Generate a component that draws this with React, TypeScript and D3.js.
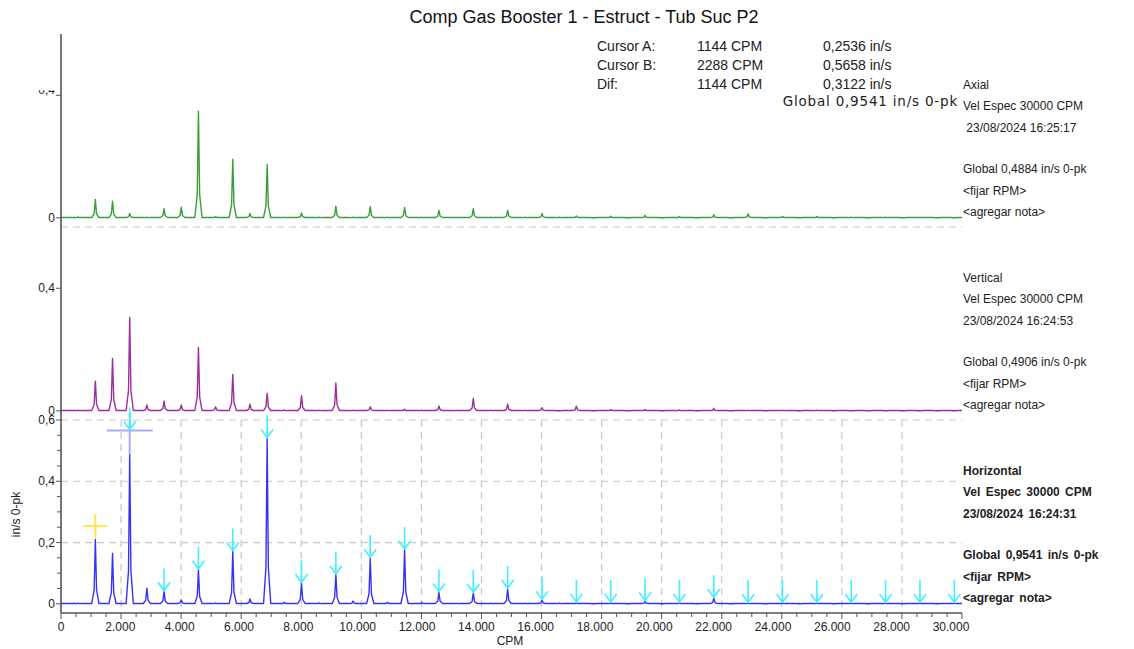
import React, { useEffect, useRef } from "react";
import * as d3 from "d3";

const W = 1134;
const H = 649;

const chartTitle = "Comp Gas Booster 1 - Estruct - Tub Suc P2";

// spectral lines every 572 CPM (0.5x of 1144 CPM running speed)
const peakCPM = [
	572, 1144, 1716, 2288, 2860, 3432, 4004, 4576, 5148, 5720, 6292, 6864, 7436,
	8008, 8580, 9152, 9724, 10296, 10868, 11440, 12012, 12584, 13156, 13728,
	14300, 14872, 15444, 16016, 16588, 17160, 17732, 18304, 18876, 19448, 20020,
	20592, 21164, 21736, 22308, 22880, 23452, 24024, 24596, 25168, 25740, 26312,
	26884, 27456, 28028, 28600, 29172, 29744,
];

const axialAmp = [
	0.003, 0.06, 0.054, 0.014, 0.002, 0.03, 0.035, 0.348, 0.004, 0.191, 0.014,
	0.174, 0.002, 0.016, 0.002, 0.038, 0.002, 0.037, 0.002, 0.034, 0.002, 0.024,
	0.002, 0.03, 0.002, 0.024, 0.002, 0.014, 0.002, 0.006, 0.001, 0.005, 0.001,
	0.008, 0.001, 0.004, 0.001, 0.01, 0.001, 0.013, 0.001, 0.004, 0.001, 0.004,
	0.001, 0.002, 0.001, 0.002, 0.001, 0.002, 0.001, 0.001,
];

const verticalAmp = [
	0.002, 0.097, 0.171, 0.305, 0.019, 0.032, 0.019, 0.207, 0.013, 0.119, 0.022,
	0.057, 0.003, 0.049, 0.002, 0.091, 0.002, 0.013, 0.002, 0.005, 0.002, 0.016,
	0.002, 0.041, 0.002, 0.022, 0.002, 0.01, 0.001, 0.015, 0.001, 0.004, 0.001,
	0.004, 0.001, 0.003, 0.001, 0.008, 0.001, 0.002, 0.001, 0.002, 0.001, 0.002,
	0.001, 0.001, 0.001, 0.001, 0.001, 0.001, 0.001, 0.001,
];

const horizontalAmp = [
	0.002, 0.21, 0.165, 0.49, 0.051, 0.04, 0.013, 0.111, 0.003, 0.171, 0.016,
	0.54, 0.005, 0.067, 0.003, 0.095, 0.009, 0.149, 0.005, 0.176, 0.004, 0.037,
	0.002, 0.035, 0.002, 0.048, 0.002, 0.012, 0.002, 0.003, 0.001, 0.003, 0.001,
	0.008, 0.001, 0.003, 0.001, 0.018, 0.001, 0.002, 0.001, 0.002, 0.001, 0.002,
	0.001, 0.002, 0.001, 0.002, 0.001, 0.002, 0.001, 0.002,
];

// harmonic markers (arrows) on the horizontal spectrum
const markerCPM = [
	2288, 3432, 4576, 5720, 6864, 8008, 9152, 10296, 11440, 12584, 13728, 14872,
	16016, 17160, 18304, 19448, 20592, 21736, 22880, 24024, 25168, 26312, 27456,
	28600, 29744,
];

const cursorA = { cpm: 1144, value: 0.2536 };
const cursorB = { cpm: 2288, value: 0.5658 };

const cursorRows = [
	["Cursor A:", "1144 CPM", "0,2536 in/s"],
	["Cursor B:", "2288 CPM", "0,5658 in/s"],
	["Dif:", "1144 CPM", "0,3122 in/s"],
];
const overallGlobal = "Global 0,9541 in/s 0-pk";

const panelNames = ["Axial", "Vertical", "Horizontal"];
const panelColors = ["#3a9e3a", "#9c2f9c", "#3434f4"];
const panelDates = [" 23/08/2024 16:25:17", "23/08/2024 16:24:53", "23/08/2024 16:24:31"];
const panelGlobals = ["Global 0,4884 in/s 0-pk", "Global 0,4906 in/s 0-pk", "Global 0,9541 in/s 0-pk"];
const panelData = [axialAmp, verticalAmp, horizontalAmp];

const xMajor = [0, 2000, 4000, 6000, 8000, 10000, 12000, 14000, 16000, 18000, 20000, 22000, 24000, 26000, 28000, 30000];
const xGrid = [2000, 4000, 6000, 8000, 10000, 12000, 14000, 16000, 18000, 20000, 22000, 24000, 26000, 28000];
const yTicksBottom = [0, 0.2, 0.4, 0.6];
const yTicksUpper = [0, 0.4];

const FONT = "'Liberation Sans', Arial, sans-serif";

const App = () => {
	const svgRef = useRef(null);

	useEffect(() => {
		const svg = d3.select(svgRef.current);
		svg.selectAll("*").remove();

		const left = 61;
		const right = 962;
		const panelH = 193;
		const tops = [34, 227, 420];
		const axisY = tops[2] + panelH;

		const x = d3.scaleLinear().domain([0, 30000]).range([left, right]);
		// tick labels drift slightly left of their ticks in the original
		const xLab = d3.scaleLinear().domain([0, 30000]).range([left, 951]);
		const yOf = (top) => d3.scaleLinear().domain([-0.03, 0.6]).range([top + panelH, top]);
		const fmtX = (v) => d3.format(",")(v).replace(/,/g, ".");
		const fmtY = (v) => (v === 0 ? "0" : d3.format(".1f")(v).replace(".", ","));

		svg.append("rect").attr("width", W).attr("height", H).attr("fill", "#fff");

		// title
		svg
			.append("text")
			.attr("x", 584)
			.attr("y", 23)
			.attr("text-anchor", "middle")
			.attr("font-size", 18)
			.attr("fill", "#111")
			.text(chartTitle);

		// grid in bottom panel
		const yB = yOf(tops[2]);
		const grid = svg.append("g").attr("stroke", "#c8c8c8").attr("stroke-width", 1.2).attr("stroke-dasharray", "7,5");
		grid
			.selectAll("line.v")
			.data(xGrid)
			.enter()
			.append("line")
			.attr("x1", (d) => x(d))
			.attr("x2", (d) => x(d))
			.attr("y1", yB(0.6))
			.attr("y2", axisY);
		grid
			.selectAll("line.h")
			.data([0.2, 0.4, 0.6])
			.enter()
			.append("line")
			.attr("x1", left)
			.attr("x2", right)
			.attr("y1", (d) => yB(d))
			.attr("y2", (d) => yB(d));
		// separator between axial and vertical
		grid
			.append("line")
			.attr("x1", left)
			.attr("x2", right)
			.attr("y1", tops[1])
			.attr("y2", tops[1]);

		// spectra
		const line = d3
			.line()
			.x((d) => x(d[0]))
			.y((d) => d[1]);

		panelData.forEach((amps, i) => {
			const y = yOf(tops[i]);
			const pts = [[0, y(0.001)]];
			peakCPM.forEach((f, k) => {
				const a = amps[k];
				pts.push([f - 120, y(0.001)]);
				pts.push([f - 40, y(a * 0.22)]);
				pts.push([f, y(a)]);
				pts.push([f + 40, y(a * 0.22)]);
				pts.push([f + 120, y(0.001)]);
			});
			pts.push([30000, y(0.001)]);
			svg
				.append("path")
				.attr("d", line(pts))
				.attr("fill", "none")
				.attr("stroke", panelColors[i])
				.attr("stroke-width", 1.4)
				.attr("stroke-linejoin", "round");
		});

		// cursor A (yellow cross)
		const ca = svg.append("g").attr("stroke", "#ffe44a").attr("stroke-width", 2);
		ca.append("line")
			.attr("x1", x(cursorA.cpm) - 12)
			.attr("x2", x(cursorA.cpm) + 12)
			.attr("y1", yB(cursorA.value))
			.attr("y2", yB(cursorA.value));
		ca.append("line")
			.attr("x1", x(cursorA.cpm))
			.attr("x2", x(cursorA.cpm))
			.attr("y1", yB(cursorA.value) - 12)
			.attr("y2", yB(cursorA.value) + 12);

		// cursor B (lavender cross)
		const cb = svg.append("g").attr("stroke", "#aaaaff").attr("stroke-width", 2);
		cb.append("line")
			.attr("x1", x(cursorB.cpm) - 23)
			.attr("x2", x(cursorB.cpm) + 23)
			.attr("y1", yB(cursorB.value))
			.attr("y2", yB(cursorB.value));
		cb.append("line")
			.attr("x1", x(cursorB.cpm))
			.attr("x2", x(cursorB.cpm))
			.attr("y1", yB(cursorB.value) - 18)
			.attr("y2", yB(cursorB.value) + 24);

		// harmonic arrows
		const arrows = svg
			.append("g")
			.attr("stroke", "#3ff0ff")
			.attr("stroke-width", 1.6)
			.attr("fill", "none");
		markerCPM.forEach((f) => {
			const k = peakCPM.indexOf(f);
			const v = f === cursorB.cpm ? cursorB.value : horizontalAmp[k];
			const xp = x(f);
			const tip = yB(v) - 1;
			arrows.append("path").attr("d", `M${xp},${tip - 22}L${xp},${tip}M${xp - 6},${tip - 8}L${xp},${tip}L${xp + 6},${tip - 8}`);
		});

		// axes
		const axes = svg.append("g").attr("stroke", "#555");
		axes.append("line").attr("x1", left).attr("x2", left).attr("y1", 34).attr("y2", axisY).attr("stroke-width", 1.6);
		axes.append("line").attr("x1", left).attr("x2", right).attr("y1", axisY).attr("y2", axisY).attr("stroke-width", 1.6);

		const xMinor = d3.range(500, 30001, 500).filter((d) => d % 2000 !== 0);
		axes
			.selectAll("line.xmaj")
			.data(xMajor)
			.enter()
			.append("line")
			.attr("x1", (d) => x(d))
			.attr("x2", (d) => x(d))
			.attr("y1", axisY)
			.attr("y2", axisY + 6);
		axes
			.selectAll("line.xmin")
			.data(xMinor)
			.enter()
			.append("line")
			.attr("x1", (d) => x(d))
			.attr("x2", (d) => x(d))
			.attr("y1", axisY)
			.attr("y2", axisY + 4);

		const yMinor = d3.range(0.05, 0.6, 0.05).filter((d) => Math.abs((d * 20) % 4) > 0.01);
		axes
			.selectAll("line.ymaj")
			.data(yTicksBottom)
			.enter()
			.append("line")
			.attr("x1", left - 5)
			.attr("x2", left)
			.attr("y1", (d) => yB(d))
			.attr("y2", (d) => yB(d));
		axes
			.selectAll("line.ymin")
			.data(yMinor)
			.enter()
			.append("line")
			.attr("x1", left - 4)
			.attr("x2", left)
			.attr("y1", (d) => yB(d))
			.attr("y2", (d) => yB(d));

		const labels = svg.append("g").attr("font-size", 12).attr("fill", "#222");
		labels
			.selectAll("text.xl")
			.data(xMajor)
			.enter()
			.append("text")
			.attr("x", (d) => xLab(d))
			.attr("y", axisY + 18)
			.attr("text-anchor", "middle")
			.text(fmtX);
		labels
			.selectAll("text.yb")
			.data(yTicksBottom)
			.enter()
			.append("text")
			.attr("x", left - 6)
			.attr("y", (d) => yB(d) + 4)
			.attr("text-anchor", "end")
			.text(fmtY);

		// upper panels: ticks at 0 and 0,4
		svg
			.append("defs")
			.append("clipPath")
			.attr("id", "clip-top-label")
			.append("rect")
			.attr("x", 20)
			.attr("y", yOf(tops[0])(0.4) - 5)
			.attr("width", 40)
			.attr("height", 10);
		[0, 1].forEach((i) => {
			const y = yOf(tops[i]);
			yTicksUpper.forEach((t) => {
				axes.append("line").attr("x1", left - 5).attr("x2", left).attr("y1", y(t)).attr("y2", y(t));
				const tx = labels
					.append("text")
					.attr("x", left - 6)
					.attr("y", y(t) + 4)
					.attr("text-anchor", "end")
					.text(fmtY(t));
				if (i === 0 && t === 0.4) tx.attr("clip-path", "url(#clip-top-label)").attr("y", y(t) - 1);
			});
		});

		// axis titles
		labels
			.append("text")
			.attr("x", 510)
			.attr("y", 645)
			.attr("text-anchor", "middle")
			.text("CPM");
		labels
			.append("text")
			.attr("transform", `translate(20,${yB(0.2) - 28}) rotate(-90)`)
			.attr("text-anchor", "middle")
			.text("in/s 0-pk");

		// cursor readout
		const cols = [597, 697, 823];
		cursorRows.forEach((row, r) => {
			row.forEach((txt, c) => {
				labels
					.append("text")
					.attr("x", cols[c])
					.attr("y", 51 + r * 19)
					.attr("font-size", 14)
					.text(txt);
			});
		});
		svg
			.append("text")
			.attr("x", 958)
			.attr("y", 106)
			.attr("text-anchor", "end")
			.attr("font-family", "'DejaVu Sans', Verdana, sans-serif")
			.attr("font-size", 13.5)
			.attr("letter-spacing", 0.8)
			.attr("fill", "#222")
			.text(overallGlobal);

		// panel labels on the right
		const rowOff = [51, 72, 94, 135, 157, 178];
		panelNames.forEach((name, i) => {
			const bold = i === 2;
			const rows = [name, "Vel Espec 30000 CPM", panelDates[i], panelGlobals[i], "<fijar RPM>", "<agregar nota>"];
			rows.forEach((txt, r) => {
				labels
					.append("text")
					.attr("x", 963)
					.attr("y", tops[i] + rowOff[r] + 4)
					.attr("font-weight", bold ? "bold" : "normal")
					.attr("word-spacing", bold ? 2 : 0)
					.attr("xml:space", "preserve")
					.style("white-space", "pre")
					.text(txt);
			});
		});
	}, []);

	return (
		<svg
			ref={svgRef}
			width={W}
			height={H}
			style={{ position: "absolute", left: 0, top: 0, fontFamily: FONT }}
		></svg>
	);
};

export default App;
